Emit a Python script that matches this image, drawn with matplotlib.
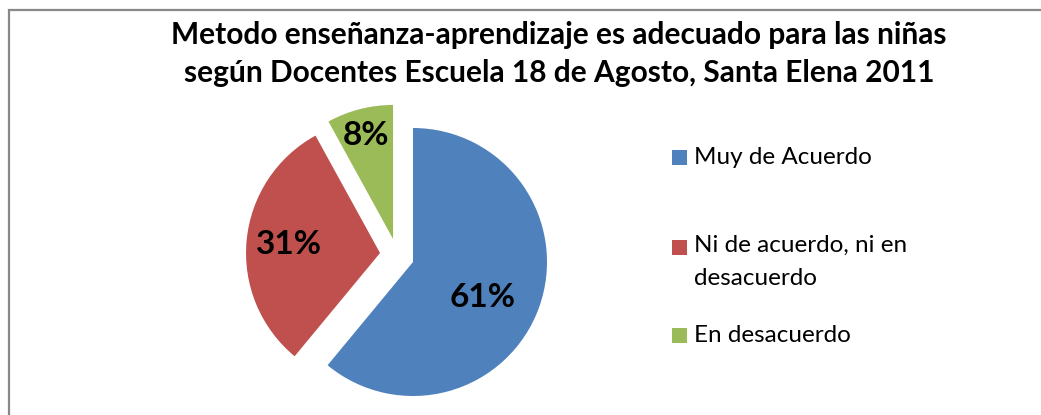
import numpy as np
import matplotlib.pyplot as plt
from matplotlib.patches import Rectangle

# data
categories = ["Muy de Acuerdo", "Ni de acuerdo, ni en\ndesacuerdo", "En desacuerdo"]
values = [61, 31, 8]
colors = ["#4f81bd", "#c0504d", "#9bbb59"]
title = "Metodo enseñanza-aprendizaje es adecuado para las niñas\nsegún Docentes Escuela 18 de Agosto, Santa Elena 2011"

# how far each slice is pulled out (in pie radii, x/y)
slice_shift = [(0, 0), (-0.246, 0.067), (-0.149, 0.172)]

plt.rcParams['font.family'] = ['Lato', 'DejaVu Sans']

W, H = 1041, 415
fig = plt.figure(figsize=(W / 100, H / 100), dpi=100)

# chart frame (cut off on right and bottom like the reference)
fig.patches.append(Rectangle((8.5 / W, -0.1), 1.2, (H - 10) / H + 0.1,
                             transform=fig.transFigure, fill=False,
                             edgecolor="#888888", linewidth=1.6))

# pie axes: center (413, 262) px, radius 134 px
R = 134
cx, cy = 413, H - 262
half = 1.3 * R
ax = fig.add_axes([(cx - half) / W, (cy - half) / H, 2 * half / W, 2 * half / H])
wedges, _ = ax.pie(values, colors=colors, startangle=90,
                   counterclock=False, radius=1)
for w, s in zip(wedges, slice_shift):
    w.set_center(s)
ax.set_xlim(-1.3, 1.3)
ax.set_ylim(-1.3, 1.3)
ax.set_aspect('equal')
ax.axis('off')

# percentage labels, per-slice distance/angle tweak like Excel "best fit"
label_dist = [0.58, 0.68, 0.80]
label_turn = [-7, 0, 0]
total = sum(values)
for w, v, d, t, s in zip(wedges, values, label_dist, label_turn, slice_shift):
    ang = np.deg2rad((w.theta1 + w.theta2) / 2 + t)
    x = s[0] + d * np.cos(ang)
    y = s[1] + d * np.sin(ang)
    ax.text(x, y, f"{round(100 * v / total)}%", ha="center", va="center",
            fontsize=24, fontweight="bold", color="black")

fig.text(559 / W, 1 - 54 / H, title, ha="center", va="center",
         fontsize=21.5, fontweight="bold", linespacing=1.4)

# legend
leg_y = [158, 247, 335]
for lab, col, y in zip(categories, colors, leg_y):
    fig.patches.append(Rectangle((672 / W, 1 - (y + 7.5) / H), 15 / W, 15 / H,
                                 transform=fig.transFigure, facecolor=col,
                                 edgecolor="none"))
    fig.text(694 / W, 1 - (y - 12) / H if "\n" in lab else 1 - y / H, lab,
             ha="left", va="top" if "\n" in lab else "center",
             fontsize=17.5, linespacing=1.7)

fig.savefig("out.png", dpi=100)
